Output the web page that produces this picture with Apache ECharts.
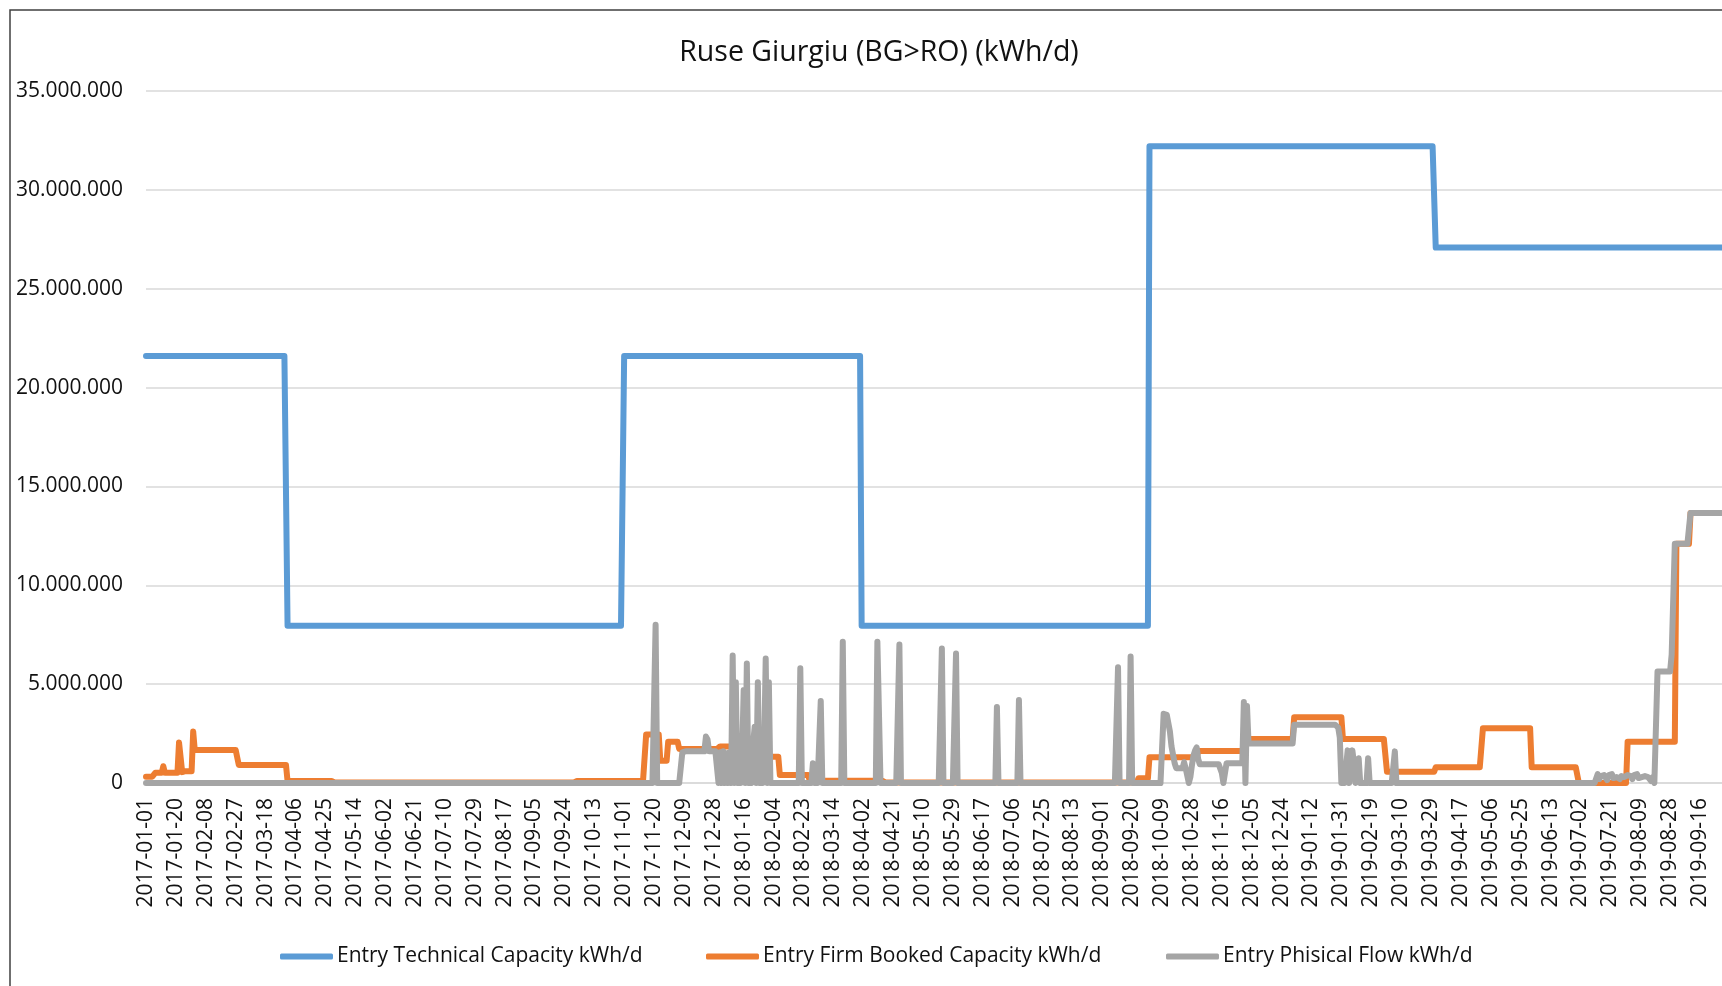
<!DOCTYPE html>
<html>
<head>
<meta charset="utf-8">
<style>
html,body{margin:0;padding:0;background:#fff;}
#chart{width:1722px;height:986px;}
</style>
<script src="https://cdn.jsdelivr.net/npm/echarts@6.0.0/dist/echarts.min.js"></script>
</head>
<body>
<div id="chart"></div>
<script>
// ---------- DATA (kWh/d) ----------
const firstDay = '2017-01-01';
const lastDay = '2019-09-30';

const seriesNames = [
  'Entry Technical Capacity kWh/d',
  'Entry Firm Booked Capacity kWh/d',
  'Entry Phisical Flow kWh/d'
];

const yTicks = [0, 5000000, 10000000, 15000000, 20000000, 25000000, 30000000, 35000000];

// technical capacity: [from date, value]
const techSteps = [
  ['2017-01-01', 21600000],
  ['2017-04-01', 7950000],
  ['2017-11-01', 21600000],
  ['2018-04-01', 7950000],
  ['2018-10-01', 32200000],
  ['2019-04-01', 27080000]
];

// firm booked capacity: [from date, value]
const firmSteps = [
  ['2017-01-01', 320000],
  ['2017-01-07', 520000],
  ['2017-01-12', 850000],
  ['2017-01-13', 520000],
  ['2017-01-22', 2050000],
  ['2017-01-23', 1950000],
  ['2017-01-24', 550000],
  ['2017-01-26', 600000],
  ['2017-01-31', 2600000],
  ['2017-02-01', 1670000],
  ['2017-03-01', 910000],
  ['2017-04-01', 100000],
  ['2017-05-01', 30000],
  ['2017-10-01', 100000],
  ['2017-11-15', 2450000],
  ['2017-11-24', 1120000],
  ['2017-11-29', 2090000],
  ['2017-12-06', 1720000],
  ['2018-01-01', 1850000],
  ['2018-01-22', 1330000],
  ['2018-02-08', 400000],
  ['2018-02-27', 120000],
  ['2018-04-16', 30000],
  ['2018-09-24', 240000],
  ['2018-10-01', 1300000],
  ['2018-11-01', 1620000],
  ['2018-12-01', 2230000],
  ['2019-01-01', 3330000],
  ['2019-02-01', 2230000],
  ['2019-03-01', 570000],
  ['2019-04-01', 800000],
  ['2019-05-01', 2770000],
  ['2019-06-01', 800000],
  ['2019-07-01', 0],
  ['2019-08-01', 2090000],
  ['2019-09-01', 12100000],
  ['2019-09-10', 13660000]
];

// physical flow, base level: [from date, value]
const flowSteps = [
  ['2017-01-01', 0],
  ['2017-12-08', 1550000],
  ['2017-12-09', 1600000],
  ['2017-12-31', 0],
  ['2018-10-10', 3500000],
  ['2018-10-11', 3550000],
  ['2018-10-12', 3450000],
  ['2018-10-13', 3400000],
  ['2018-10-14', 2600000],
  ['2018-10-15', 1850000],
  ['2018-10-16', 1800000],
  ['2018-10-17', 1000000],
  ['2018-10-18', 750000],
  ['2018-10-23', 1050000],
  ['2018-10-24', 750000],
  ['2018-10-25', 700000],
  ['2018-10-26', 0],
  ['2018-10-27', 300000],
  ['2018-10-28', 900000],
  ['2018-10-29', 1400000],
  ['2018-10-30', 1650000],
  ['2018-10-31', 1800000],
  ['2018-11-01', 1200000],
  ['2018-11-02', 950000],
  ['2018-11-16', 500000],
  ['2018-11-17', 0],
  ['2018-11-18', 500000],
  ['2018-11-19', 1000000],
  ['2018-11-30', 4100000],
  ['2018-12-01', 0],
  ['2018-12-02', 3900000],
  ['2018-12-03', 2000000],
  ['2019-01-01', 2950000],
  ['2019-01-29', 2800000],
  ['2019-01-30', 2300000],
  ['2019-01-31', 0],
  ['2019-08-20', 5640000],
  ['2019-08-29', 6500000],
  ['2019-08-30', 6600000],
  ['2019-08-31', 12100000],
  ['2019-09-10', 13660000]
];

// physical flow, daily values from 2017-12-31
const flowJan2018Start = '2017-12-31';
const flowJan2018 = [0, 1550000, 0, 1600000, 0, 1500000, 0, 1550000, 0, 6450000,
  0, 5100000, 0, 1500000, 0, 1400000, 4700000, 0, 6050000, 0,
  1500000, 0, 2000000, 2850000, 0, 5100000, 0, 1500000, 0, 1600000,
  6300000, 0, 5100000, 0];

// physical flow, daily values from 2019-07-13
const flowJul2019Start = '2019-07-13';
const flowJul2019 = [450000, 200000, 350000, 250000, 400000, 300000, 150000, 400000, 300000, 450000,
  250000, 350000, 300000, 400000, 200000, 350000, 450000, 300000, 250000, 400000,
  300000, 350000, 200000, 400000, 300000, 450000, 250000, 350000, 300000, 200000,
  350000, 400000, 300000, 350000, 100000, 300000, 0];

// physical flow, single-day peaks: [date, value]
const flowSpikes = [
  ['2017-11-21', 8000000],
  ['2017-12-23', 2350000],
  ['2017-12-24', 2200000],
  ['2018-02-21', 5800000],
  ['2018-03-01', 1000000],
  ['2018-03-06', 4150000],
  ['2018-03-20', 7150000],
  ['2018-04-11', 7150000],
  ['2018-04-12', 7250000],
  ['2018-04-25', 7000000],
  ['2018-05-22', 6800000],
  ['2018-05-31', 6550000],
  ['2018-06-26', 3850000],
  ['2018-07-10', 4200000],
  ['2018-09-11', 5850000],
  ['2018-09-19', 6400000],
  ['2019-02-04', 1650000],
  ['2019-02-07', 1650000],
  ['2019-02-08', 1000000],
  ['2019-02-11', 1250000],
  ['2019-02-17', 1250000],
  ['2019-03-06', 1600000]
];

// ---------- BUILD ----------
const dates = [];
(function () {
  const a = new Date(firstDay + 'T00:00:00Z').getTime();
  const b = new Date(lastDay + 'T00:00:00Z').getTime();
  for (let t = a; t <= b; t += 86400000) dates.push(new Date(t).toISOString().slice(0, 10));
})();

function fromSteps(steps) {
  const out = [];
  let s = 0;
  for (let i = 0; i < dates.length; i++) {
    while (s + 1 < steps.length && dates[i] >= steps[s + 1][0]) s++;
    out.push(steps[s][1]);
  }
  return out;
}
function putDaily(arr, start, vals) {
  const i0 = dates.indexOf(start);
  vals.forEach((v, k) => { if (i0 + k < arr.length) arr[i0 + k] = v; });
}
function putSpikes(arr, spikes) {
  spikes.forEach(([d, v]) => { const i = dates.indexOf(d); if (i >= 0) arr[i] = v; });
}

const techData = fromSteps(techSteps);
const firmData = fromSteps(firmSteps);
const flowData = fromSteps(flowSteps);
putDaily(flowData, flowJan2018Start, flowJan2018);
putDaily(flowData, flowJul2019Start, flowJul2019);
putSpikes(flowData, flowSpikes);

// ---------- CHART ----------
const FONT = '"Open Sans", "Noto Sans", sans-serif';
const TXT = '#111111';
const colors = ['#5B9BD5', '#ED7D31', '#A5A5A5'];

function fmt(v) {
  return String(Math.round(v)).replace(/\B(?=(\d{3})+(?!\d))/g, '.');
}

const chart = echarts.init(document.getElementById('chart'), null, { renderer: 'canvas' });

function legendItem(name, left) {
  return {
    data: [name], left: left, top: 946, icon: 'roundRect',
    itemWidth: 53, itemHeight: 6, itemGap: 0, padding: 0,
    selectedMode: false,
    textStyle: { fontFamily: FONT, fontSize: 21, color: TXT, padding: [0, 0, 0, -1] }
  };
}

function lineSeries(name, data, color) {
  return {
    name: name, type: 'line', data: data,
    showSymbol: false, symbol: 'none',
    lineStyle: { width: 6, color: color, cap: 'round', join: 'round' },
    itemStyle: { color: color },
    emphasis: { disabled: true },
    animation: false
  };
}

chart.setOption({
  backgroundColor: '#ffffff',
  animation: false,
  title: {
    text: 'Ruse Giurgiu (BG>RO) (kWh/d)',
    left: 874, top: 33, textAlign: 'center',
    textStyle: { fontFamily: FONT, fontSize: 28.5, fontWeight: 'normal', color: TXT }
  },
  legend: [
    legendItem(seriesNames[0], 280),
    legendItem(seriesNames[1], 706),
    legendItem(seriesNames[2], 1166)
  ],
  grid: { left: 146, right: -2, top: 91, bottom: 203, containLabel: false },
  xAxis: {
    type: 'category', data: dates, boundaryGap: false,
    axisTick: { show: false },
    axisLine: { lineStyle: { color: '#D9D9D9', width: 1.5 } },
    axisLabel: { interval: 18, rotate: 90, margin: 15, fontFamily: FONT, fontSize: 21, color: TXT },
    splitLine: { show: false }
  },
  yAxis: {
    type: 'value', min: yTicks[0], max: yTicks[yTicks.length - 1], interval: yTicks[1] - yTicks[0],
    axisLine: { show: false }, axisTick: { show: false },
    axisLabel: { margin: 23, fontFamily: FONT, fontSize: 21, color: TXT, formatter: fmt },
    splitLine: { lineStyle: { color: '#D9D9D9', width: 1.5 } }
  },
  graphic: [{
    type: 'rect', silent: true, z: -10,
    shape: { x: 10, y: 10, width: 1800, height: 1200 },
    style: { fill: 'none', stroke: '#404040', lineWidth: 1.5 }
  }],
  series: [
    lineSeries(seriesNames[0], techData, colors[0]),
    lineSeries(seriesNames[1], firmData, colors[1]),
    lineSeries(seriesNames[2], flowData, colors[2])
  ]
});
</script>
</body>
</html>
